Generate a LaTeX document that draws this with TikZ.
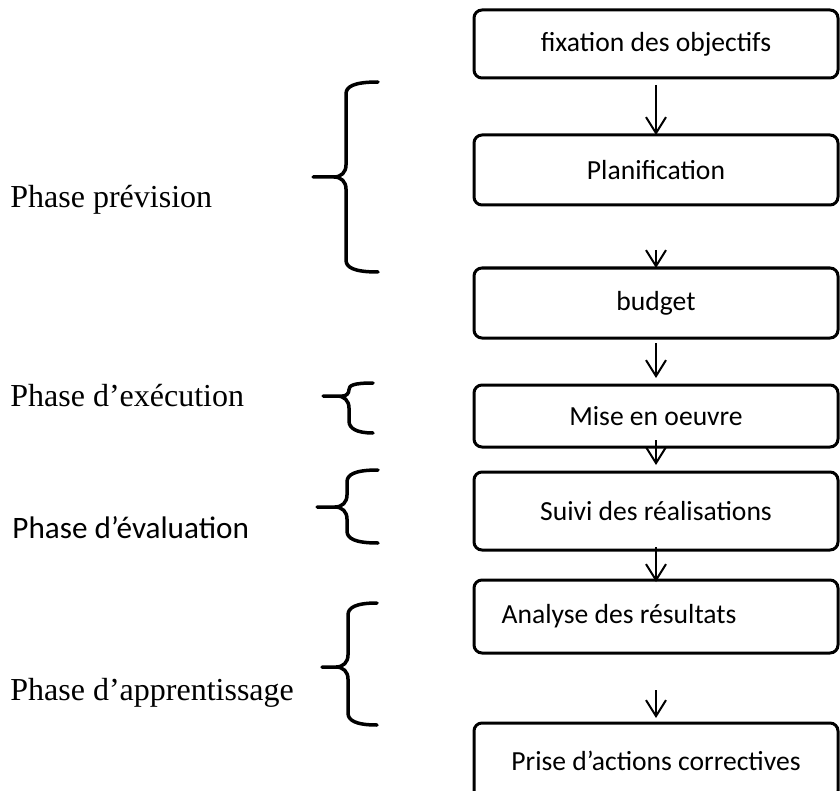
\documentclass[tikz,border=0pt]{standalone}
\usepackage{fontspec}
\setmainfont{Liberation Serif}
\newfontfamily\calibrifont{Carlito}
\usepackage{tikz}
\usetikzlibrary{arrows.meta,positioning}

\newcommand{\phasebrace}[6]{%
  \pgfmathsetmacro\ra{min(12,(#5-#4)/2)}%
  \pgfmathsetmacro\rb{min(12,(#6-#5)/2)}%
  \draw[curly] (#3,#4) .. controls ({#2+0.6*\ra},#4) and (#2,{#4+0.4*\ra}) .. (#2,{#4+\ra})
    -- (#2,{#5-\ra}) .. controls (#2,{#5-0.4*\ra}) and ({#2-0.4*\ra},#5) .. ({#2-\ra},#5)
    -- (#1,#5) -- ({#2-\rb},#5) .. controls ({#2-0.4*\rb},#5) and (#2,{#5+0.4*\rb}) .. (#2,{#5+\rb})
    -- (#2,{#6-\rb}) .. controls (#2,{#6-0.4*\rb}) and ({#2+0.6*\rb},#6) .. (#3,#6);}

\begin{document}
\begin{tikzpicture}[x=0.5pt,y=-0.5pt,
  stage/.style={draw,line width=1.5pt,rounded corners=4pt,minimum width=182pt,inner sep=0pt,outer sep=0pt,align=center,font=\calibrifont\fontsize{13.8}{16}\selectfont},
  arrow/.style={-{Straight Barb[length=8pt,width=10pt]},line width=1pt},
  curly/.style={line width=1.75pt,line join=round,line cap=round},
  phaselabel/.style={anchor=base west,inner sep=0pt,font=\fontsize{16}{19}\selectfont}
]
\useasboundingbox (0,0) rectangle (840,791);
\node[stage,minimum height=34pt] (b1) at (656,44) {fixation des objectifs};
\node[stage,minimum height=35pt,below=28.5pt of b1] (b2) {Planification};
\node[stage,minimum height=35pt,below=31.5pt of b2] (b3) {budget};
\node[stage,minimum height=31pt,below=23.5pt of b3] (b4) {Mise en oeuvre};
\node[stage,minimum height=39pt,below=12.5pt of b4] (b5) {Suivi des réalisations};
\node[stage,minimum height=36.5pt,below=15pt of b5] (b6) {Analyse des résultats\hspace*{37pt}};
\node[stage,minimum height=38pt,below=35pt of b6] (b7) {Prise d’actions correctives};
\draw[arrow,shorten <=3.5pt] (b1) -- (b2);
\draw[arrow,shorten <=22.5pt] (b2) -- (b3);
\draw[arrow,shorten <=2.5pt,shorten >=3.5pt] (b3) -- (b4);
\draw[arrow,shorten <=-3.5pt,shorten >=3.5pt] (b4) -- (b5);
\draw[arrow,shorten <=-1.5pt,shorten >=-1pt] (b5) -- (b6);
\draw[arrow,shorten <=18.5pt,shorten >=2.5pt] (b6) -- (b7);
\node[phaselabel] (prevision) at (10,208) {Phase prévision};
\node[phaselabel] (execution) at (10,406) {Phase d’exécution};
\node[phaselabel,font=\calibrifont\fontsize{15.6}{19}\selectfont] (evaluation) at (12,538) {Phase d’évaluation};
\node[phaselabel] (apprentissage) at (10,700) {Phase d’apprentissage};
\phasebrace{313}{346}{378}{82}{177}{272}
\phasebrace{323}{349}{373}{383}{396}{433}
\phasebrace{317}{347}{378}{470}{507}{543}
\phasebrace{322}{348}{377}{603}{667}{725}
\end{tikzpicture}
\end{document}
